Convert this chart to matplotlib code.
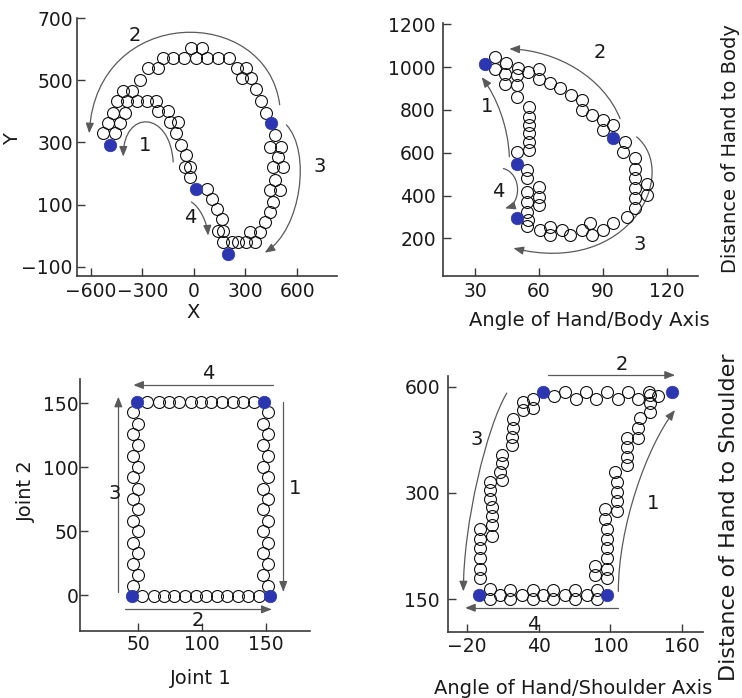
import matplotlib
matplotlib.use("Agg")
import matplotlib.pyplot as plt
from matplotlib.patches import FancyArrowPatch
from matplotlib.path import Path
from matplotlib.ticker import NullLocator

plt.rcParams['font.family'] = ['DejaVu Sans']

# ---------------- data ----------------
# Panel 1: hand X / Y
p1_open_x = [-526, -497, -468, -449, -410, -362, -313, -265, -207, -178, -120, -55, -15, 45, 10, 74, 141, 203,
             248, 306, 277, 335, 364, 393, 422,
             -459, -430, -400, -391, -333, -275, -217, -207, -149, -139, -91, -101, -72, -43, -52, -23, -23,
             74, 103, 132, 161, 170, 141, 170, 219,
             470, 441, 509, 490, 461, 519, 470, 441, 499, 461, 441, 412, 383, 325, 354, 306, 257]
p1_open_y = [329, 362, 394, 432, 464, 464, 502, 540, 540, 572, 572, 572, 605, 605, 572, 572, 572, 572,
             540, 540, 508, 508, 470, 432, 394,
             329, 362, 394, 432, 432, 432, 432, 400, 400, 367, 367, 329, 291, 259, 221, 221, 189,
             151, 118, 86, 54, 16, 16, -22, -22,
             324, 286, 286, 254, 221, 221, 178, 146, 146, 108, 75, 43, 10, 10, -22, -22, -22]
p1_blue_x = [-488, 451, 12, 201]
p1_blue_y = [291, 362, 151, -60]
p1_xticks = [-600, -300, 0, 300, 600]
p1_xticklabels = ['\u2212600', '\u2212300', '0', '300', '600']
p1_yticks = [-100, 100, 300, 500, 700]
p1_yticklabels = ['\u2212100', '100', '300', '500', '700']

# Panel 2: angle of hand/body axis vs distance hand-body
p2_open_x = [39.5, 44.5, 50, 55, 60, 60, 65, 70, 75, 80, 80, 85, 90, 90, 95,
             39.5, 44.2, 49.7, 44.2, 49.7, 49.7, 55.2, 55.2, 55.2, 55.2, 55.2, 55.2, 49.7,
             54.4, 54.4, 59.9, 59.9, 54.4, 54.4, 59.9, 54.4,
             100.4, 99.6, 105.1, 105.1, 105.1, 105.1, 105.1, 105.1, 110.6, 110.6, 101.2, 95, 90.3,
             84.8, 84, 80.1, 74.6, 70.7, 65.2, 65.2, 60.5, 55, 54.4]
p2_open_y = [1047, 1020, 995, 975, 992, 946, 925, 900, 870, 845, 798, 775, 752, 705, 728,
             992, 969, 961, 922, 915, 860, 814, 767, 728, 690, 651, 612, 604,
             519, 480, 441, 394, 418, 371, 355, 324,
             651, 604, 573, 526, 480, 433, 387, 340, 456, 402, 301, 270, 239,
             216, 270, 239, 216, 239, 216, 255, 239, 286, 257]
p2_blue_x = [34.5, 95, 49.7, 49.7]
p2_blue_y = [1013, 670, 548, 296]
p2_xticks = [30, 60, 90, 120]
p2_yticks = [200, 400, 600, 800, 1000, 1200]

# Panel 3: joint space
p3_open_x = [57, 66, 74, 82, 91, 99, 107, 116, 124, 132, 141,
             53, 62, 70, 78, 87, 95, 103, 112, 120, 128, 136, 145,
             46, 50, 46, 50, 46, 50, 46, 50, 46, 50, 46, 50, 46, 50, 46, 50, 46,
             152, 148, 152, 148, 152, 148, 152, 148, 152, 148, 152, 148, 152, 148, 152, 148, 152]
p3_open_y = [151, 151, 151, 151, 151, 151, 151, 151, 151, 151, 151,
             -1, -1, -1, -1, -1, -1, -1, -1, -1, -1, -1, -1,
             143, 134, 126, 117, 109, 100, 92, 83, 75, 67, 58, 50, 41, 33, 24, 16, 7,
             143, 134, 126, 117, 109, 100, 92, 83, 75, 67, 58, 50, 41, 33, 24, 16, 7]
p3_blue_x = [49, 149, 45, 153]
p3_blue_y = [151, 151, -1, -1]
p3_xticks = [50, 100, 150]
p3_yticks = [0, 50, 100, 150]

# Panel 4: angle of hand/shoulder axis vs distance hand-shoulder (log y)
p4_open_x = [53, 62, 71, 80, 88, 97, 106, 115, 123, 132, 140,
             35.6, 27.3, 35.6, 27.3, 19, 19, 17.6, 17.6, 9.2, 9.2, 7.8, 9.2, -0.5, -0.5, -0.5,
             0.9, 0.9, 0.9, 0.9, -8.9, -8.9, -8.9, -8.9, -8.9, -8.9,
             87.1, 87.1, 96.8, 96.8, 96.8, 96.8, 96.8, 96.8, 95.4, 95.4, 105.2, 105.2, 105.2, 105.2,
             103.8, 113.5, 113.5, 113.5, 113.5, 123.3, 123.3, 124.7, 133, 133, 133,
             -0.5, -0.5, 7.8, 16.2, 16.2, 25.9, 35.6, 35.6, 44, 52.3, 52.3, 62.1, 70.4, 70.4, 80.2, 88.5, 88.5]
p4_open_y = [565, 580, 553, 578, 553, 578, 553, 578, 553, 578, 565,
             555, 542, 522, 516, 486, 458, 432, 410, 385, 364, 343, 326, 322, 305, 289,
             274, 259, 243, 227, 238, 223, 210, 197, 183, 172,
             176, 186, 172, 183, 196, 209, 223, 238, 254, 271, 266, 284, 302, 323,
             345, 360, 380, 405, 428, 428, 458, 488, 510, 538, 568,
             161, 150, 154, 159, 150, 154, 159, 150, 154, 159, 150, 154, 159, 150, 154, 159, 150]
p4_blue_x = [-9.4, 44, 97.4, 151]
p4_blue_y = [154, 581, 154, 581]
p4_xticks = [-20, 40, 100, 160]
p4_xticklabels = ['\u221220', '40', '100', '160']
p4_yticks = [150, 300, 600]

# annotation arrows (start, [control, control,] end) and step numbers
p1_arrows = [[(499, 421), (422, 745), (-565, 745), (-608, 329)],
             [(-120, 237), (-139, 405), (-410, 405), (-410, 254)],
             [(538, 356), (683, 270), (625, 21), (412, -55)],
             [(-14, 108), (35, 91), (77, 43), (83, 0)]]
p1_labels = [('2', -342, 643), ('1', -284, 291), ('3', 731, 221), ('4', -19, 59)]
p2_arrows = [[(98.1, 759), (90.3, 953), (68.3, 1078), (46.1, 1085)],
             [(46.1, 581), (45.6, 720), (40.2, 860), (33.1, 953)],
             [(105.9, 674), (126.2, 503), (102.8, 22), (48, 154)],
             [(43.3, 526), (51.9, 503), (51.9, 363), (44.1, 340)]]
p2_labels = [('2', 88.7, 1070), ('1', 35.5, 814), ('4', 41, 418), ('3', 107.5, 169)]
p3_arrows = [[(156, 164.3), (46, 164.3)],
             [(34.3, 2.6), (34.3, 155.2)],
             [(163.8, 151.3), (163.8, 2.6)],
             [(39.6, -11.2), (154.7, -11.2)]]
p3_labels = [('4', 105, 173.5), ('3', 31.7, 79.6), ('1', 173, 83.5), ('2', 97.1, -19.6)]
p4_arrows = [[(48.2, 647), (153.9, 647)],
             [(13.4, 575), (-3.3, 462), (-22.8, 246), (-22.8, 158)],
             [(106.6, 158), (106.6, 241), (130.3, 405), (153.9, 515)],
             [(106.6, 142), (-21.4, 142)]]
p4_labels = [('2', 109.4, 691), ('3', -11.7, 424), ('1', 135.8, 280), ('4', 35.6, 127)]

# ---------------- drawing ----------------
W, H = 742, 698
fig = plt.figure(figsize=(W / 100, H / 100), dpi=100)
BLUE = '#2b36b0'
SPINE = '#3a3a3a'
ARROW = '#5a5a5a'
TICKFS = 13.5
LABFS = 14


def axes_px(l, t, r, b):
    return fig.add_axes([l / W, 1 - b / H, (r - l) / W, (b - t) / H])


def style(ax, xpad, ypad):
    for s in ['top', 'right']:
        ax.spines[s].set_visible(False)
    for s in ['left', 'bottom']:
        ax.spines[s].set_linewidth(1.2)
        ax.spines[s].set_color(SPINE)
    ax.tick_params(direction='in', length=5.5, width=1.0, color=SPINE,
                   labelsize=TICKFS, labelcolor='#1a1a1a')
    ax.tick_params(axis='x', pad=xpad)
    ax.tick_params(axis='y', pad=ypad)
    ax.patch.set_alpha(0)


def draw_points(ax, ox, oy, bx, by):
    ax.plot(ox, oy, 'o', ls='none', ms=8.6, mfc='none', mec='#111111', mew=0.8,
            clip_on=False, zorder=3)
    ax.plot(bx, by, 'o', ls='none', ms=9.0, mfc=BLUE, mec=BLUE, mew=0.5,
            clip_on=False, zorder=4)


def draw_arrows(ax, arrows, labels):
    for pts in arrows:
        if len(pts) == 2:
            codes = [Path.MOVETO, Path.LINETO]
        else:
            codes = [Path.MOVETO, Path.CURVE4, Path.CURVE4, Path.CURVE4]
        patch = FancyArrowPatch(path=Path(pts, codes),
                                arrowstyle='-|>,head_length=0.55,head_width=0.22',
                                mutation_scale=11, color=ARROW, lw=0.9,
                                transform=ax.transData, clip_on=False, zorder=2)
        ax.add_patch(patch)
    for txt, x, y in labels:
        ax.text(x, y, txt, fontsize=LABFS, ha='center', va='center', color='#1a1a1a',
                clip_on=False)


# Panel 1
ax1 = axes_px(77, 18, 337, 276)
draw_points(ax1, p1_open_x, p1_open_y, p1_blue_x, p1_blue_y)
draw_arrows(ax1, p1_arrows, p1_labels)
ax1.set_xlim(-679, 832)
ax1.set_ylim(-130, 700)
ax1.set_xticks(p1_xticks)
ax1.set_xticklabels(p1_xticklabels)
ax1.set_yticks(p1_yticks)
ax1.set_yticklabels(p1_yticklabels)
style(ax1, 4.5, 3)

# Panel 2
ax2 = axes_px(442.7, 23, 698, 276)
draw_points(ax2, p2_open_x, p2_open_y, p2_blue_x, p2_blue_y)
draw_arrows(ax2, p2_arrows, p2_labels)
ax2.set_xlim(14.8, 134.7)
ax2.set_ylim(24, 1206)
ax2.set_xticks(p2_xticks)
ax2.set_yticks(p2_yticks)
style(ax2, 4.5, 5)

# Panel 3
ax3 = axes_px(80, 379, 310, 630.7)
draw_points(ax3, p3_open_x, p3_open_y, p3_blue_x, p3_blue_y)
draw_arrows(ax3, p3_arrows, p3_labels)
ax3.set_xlim(4.2, 184.8)
ax3.set_ylim(-27.9, 169)
ax3.set_xticks(p3_xticks)
ax3.set_yticks(p3_yticks)
style(ax3, 3, 1)

# Panel 4
ax4 = axes_px(448.3, 376, 703, 631.7)
ax4.set_yscale('log')
draw_points(ax4, p4_open_x, p4_open_y, p4_blue_x, p4_blue_y)
draw_arrows(ax4, p4_arrows, p4_labels)
ax4.set_xlim(-35.4, 177.3)
ax4.set_ylim(121.5, 643)
ax4.set_xticks(p4_xticks)
ax4.set_xticklabels(p4_xticklabels)
ax4.set_yticks(p4_yticks)
ax4.set_yticklabels([str(v) for v in p4_yticks])
ax4.yaxis.set_minor_locator(NullLocator())
style(ax4, 4, 6)


def ftext(x, y, s, rot=0, fs=LABFS):
    fig.text(x / W, 1 - y / H, s, fontsize=fs, ha='center', va='center',
             rotation=rot, color='#1a1a1a')


ftext(13, 139, 'Y', 90)
ftext(193, 313, 'X')
ftext(589, 320, 'Angle of Hand/Body Axis')
ftext(731, 149, 'Distance of Hand to Body', 90)
ftext(26, 491, 'Joint 2', 90)
ftext(201, 678, 'Joint 1')
ftext(573, 688, 'Angle of Hand/Shoulder Axis')
ftext(729, 517, 'Distance of Hand to Shoulder', 90, 16)

fig.savefig('out.png', dpi=100)
